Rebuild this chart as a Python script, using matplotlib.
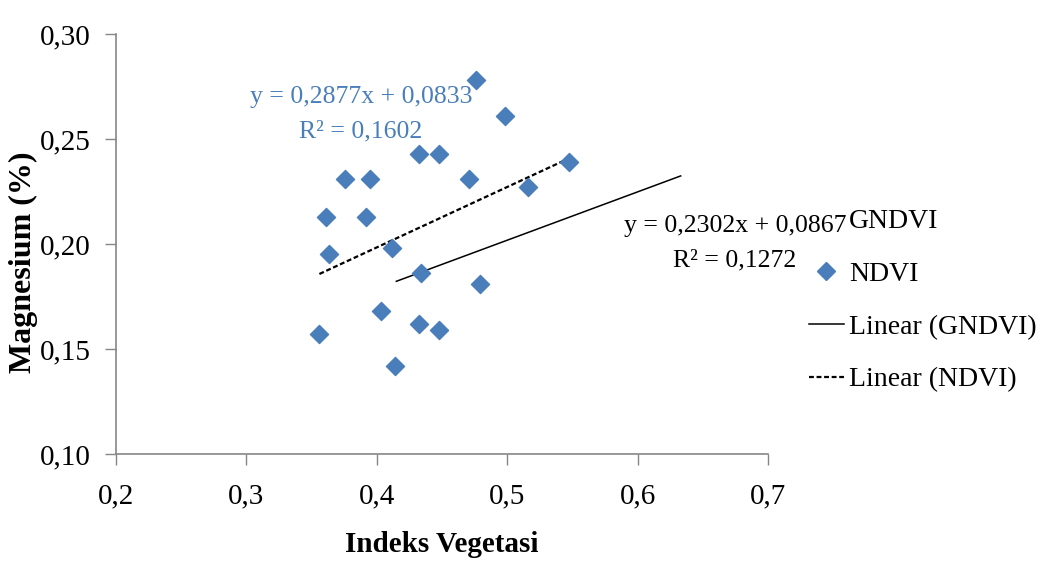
import matplotlib
matplotlib.use("Agg")
import matplotlib.pyplot as plt
from matplotlib.lines import Line2D
import numpy as np

plt.rcParams['font.family'] = ['Liberation Serif', 'DejaVu Serif']

# NDVI observations (vegetation index vs magnesium %)
ndvi_x = [0.476, 0.498, 0.432, 0.448, 0.376, 0.395, 0.471, 0.361, 0.392, 0.363,
          0.412, 0.434, 0.516, 0.547, 0.479, 0.356, 0.403, 0.432, 0.448, 0.414]
ndvi_y = [0.278, 0.261, 0.243, 0.243, 0.231, 0.231, 0.231, 0.213, 0.213, 0.195,
          0.198, 0.186, 0.227, 0.239, 0.181, 0.157, 0.168, 0.162, 0.159, 0.142]

# Trendline coefficients and x-ranges
gndvi_slope, gndvi_intercept, gndvi_r2 = 0.2302, 0.0867, 0.1272
gndvi_range = [0.415, 0.633]
ndvi_slope, ndvi_intercept, ndvi_r2 = 0.2877, 0.0833, 0.1602
ndvi_range = [0.356, 0.547]

x_ticks = [0.2, 0.3, 0.4, 0.5, 0.6, 0.7]
y_ticks = [0.10, 0.15, 0.20, 0.25, 0.30]

blue = '#4A7EBB'
grey = '#868686'

fig = plt.figure(figsize=(10.4, 5.62), dpi=100)
ax = fig.add_axes([0.1115, 0.1922, 0.627, 0.7473])

ax.scatter(ndvi_x, ndvi_y, marker='D', s=85, color=blue, zorder=3)

gx = np.array(gndvi_range)
ax.plot(gx, gndvi_slope * gx + gndvi_intercept, color='black', lw=1.1, zorder=2)
nx = np.array(ndvi_range)
ax.plot(nx, ndvi_slope * nx + ndvi_intercept, color='black', lw=1.6,
        ls=(0, (2.2, 1.2)), zorder=2)

ax.set_xlim(0.2, 0.7)
ax.set_ylim(0.10, 0.30)
ax.set_xticks(x_ticks)
ax.set_yticks(y_ticks)
ax.set_xticklabels([f"{t:.1f}".replace('.', ',') for t in x_ticks], fontsize=21)
ax.set_yticklabels([f"{t:.2f}".replace('.', ',') for t in y_ticks], fontsize=21)
ax.tick_params(axis='both', direction='out', length=8, width=1, color=grey)
ax.tick_params(axis='y', pad=10)
ax.tick_params(axis='x', pad=13)
for s in ['top', 'right']:
    ax.spines[s].set_visible(False)
for s in ['left', 'bottom']:
    ax.spines[s].set_color(grey)
    ax.spines[s].set_linewidth(1.2)

ax.set_xlabel('Indeks Vegetasi', fontsize=21, fontweight='bold', labelpad=16)
ax.set_ylabel('Magnesium (%)', fontsize=23, fontweight='bold')
ax.yaxis.set_label_coords(-0.119, 0.457)

def fmt(v, d=4):
    return f"{v:.{d}f}".replace('.', ',')

fig.text(361 / 1040, 1 - 114 / 562, f"y = {fmt(ndvi_slope)}x + {fmt(ndvi_intercept)}\nR² = {fmt(ndvi_r2)}",
         color=blue, fontsize=18.5, ha='center', va='center', linespacing=1.75)
fig.text(735 / 1040, 1 - 243 / 562, f"y = {fmt(gndvi_slope)}x + {fmt(gndvi_intercept)}\nR² = {fmt(gndvi_r2)}",
         color='black', fontsize=18.5, ha='center', va='center', linespacing=1.75)

handles = [
    Line2D([], [], ls='none', marker=None),
    Line2D([], [], ls='none', marker='D', color=blue, markersize=9.5),
    Line2D([], [], color='black', lw=1.1),
    Line2D([], [], color='black', lw=1.6, ls=(0, (2.2, 1.2))),
]
labels = ['GNDVI', 'NDVI', 'Linear (GNDVI)', 'Linear (NDVI)']
fig.legend(handles, labels, loc='upper left', bbox_to_anchor=(809 / 1040, 1 - 209 / 562),
           frameon=False, fontsize=20, handlelength=1.25, handletextpad=0.2,
           labelspacing=0.98, borderaxespad=0, borderpad=0)

fig.savefig('out.png', dpi=100)
